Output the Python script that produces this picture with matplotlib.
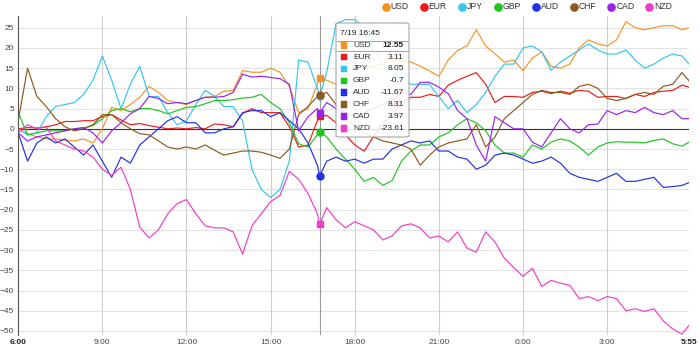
import matplotlib
matplotlib.use("Agg")
import matplotlib.pyplot as plt
from matplotlib.patches import FancyBboxPatch, Rectangle
from matplotlib.lines import Line2D

plt.rcParams['font.family'] = ['Liberation Sans', 'DejaVu Sans']

# minutes after 6:00 (20 min steps, plus the hovered 16:45 point and the last 5:55 point)
minutes = list(range(0, 641, 20)) + [645] + list(range(660, 1421, 20)) + [1435]

usd = [0, -1.2, -2, -2.5, -2.5, -2.8, -3, -2.5, -3.5, 0,
       5.3, 4.5, 6, 7.8, 10.5, 9, 7, 6.5, 6, 7,
       7.8, 8, 9.3, 9.5, 14.4, 14, 14, 15, 14, 10.5,
       4, 5, 11,
       12.55,
       12, 11, 13, 14, 15, 15.5, 16, 17, 17, 16.5,
       15.5, 14.3, 13, 17, 19.4, 20.5, 24.5, 20.5, 18.5, 16.5,
       17, 14.4, 17.5, 19, 15.5, 15, 16, 20, 22, 21,
       20.5, 22, 26.5, 25, 24.5, 25, 25.5, 25.5, 24.5,
       25]
eur = [0, 0.3, 0.2, 0.5, 1, 1.8, 1.8, 2, 2, 3,
       3.5, 2.2, 1, 1.3, 0.8, 0.4, 0, 0.2, 0, 0.3,
       0, 1.2, 1, 0.5, 3.8, 5, 4, 4, 4, 0.5,
       -4.5, -4, 2,
       3.11,
       3.3, 1.5, -1.5, -4, -5.5, -2, 1.5, 3.5, 6.5, 7.8,
       7.8, 8.5, 8, 10.8, 12, 13, 13.9, 11, 6.5, 8,
       8, 7.8, 9, 9.3, 8.7, 9.3, 8.8, 9.5, 9.3, 7.8,
       8, 8, 7.5, 8.5, 8, 9, 9.3, 9.5, 10.8,
       10.3]
jpy = [0, -1.5, -1, 3, 5.5, 6, 6.5, 8.5, 12, 18,
       12, 5, 11, 15.5, 8, 8, 4, 1, 2, 6,
       9.5, 8, 5.5, 5.5, 2, -10, -15, -17, -15, -8,
       17, 16.5, 10,
       8.05,
       14, 26, 27, 27, 25, 20, 16, 13.5, 12.5, 11,
       11, 11, 8, 5, 7, 4, 6, 9, 13, 16,
       16, 20, 20.5, 19, 14.5, 16.5, 18, 19.5, 21, 19.5,
       18.5, 18.5, 19.5, 17, 15, 16, 17.5, 18.5, 18,
       16]
gbp = [4, -1.5, -1, -0.5, -0.5, -0.5, 0, 0.2, 0.8, 2.5,
       4.5, 5, 4.2, 5, 5, 4.5, 3.7, 4.5, 5.3, 5.5,
       6.2, 7, 7, 7.2, 7.6, 7.8, 8.5, 6.5, 5, 1.5,
       -3.7, -4.5, -1.5,
       -0.7,
       -2, -5, -7.5, -10, -13, -12, -14, -12.8, -8, -5.5,
       -4, -4, -2, -1, 1, 2.5, 1.5, -0.5, -4, -6,
       -6, -7, -4, -5, -3.3, -2.5, -3, -4.5, -6.5, -4.5,
       -3.5, -3.2, -3.3, -3.3, -3.5, -2.9, -2.5, -3.7, -4.3,
       -3.3]
aud = [-1, -8, -3.5, -2, -3.5, -2.5, -4.5, -6.5, -4, -8,
       -12, -7, -8.5, -4, -2, 0, 2, 3, 1.5, 1.5,
       -1, -1, 0, 0.5, 4, 4.5, 4.5, 3, 4, 2,
       0, -3.5, -9,
       -11.67,
       -8, -7, -8, -7.5, -8.5, -7.5, -7.5, -5, -4, -3,
       -3.5, -3, -5.5, -5.5, -7, -7.5, -10, -9, -6.5, -6,
       -6.5, -7.5, -8.5, -8, -7, -8.5, -11, -12, -12.5, -13,
       -12, -11, -13, -13, -12.5, -12, -14.5, -14.3, -14,
       -13.3]
chf = [2, 15, 8, 5.5, 2.5, 0.5, -0.5, 0, 1, 3.5,
       3.5, 1.5, 0, -1.2, -1.5, -3, -4.5, -5, -4.5, -5,
       -4, -5.3, -6.5, -6, -5.5, -5.5, -5.8, -6.5, -7.3, -5,
       3.5, 5.5, 8,
       8.31,
       9, 6, 3, 0.5, -1, -2, -3, -3.5, -4, -5,
       -9, -6.5, -4.5, -3.5, -3, -2.5, 1, -4.5, -2, 2.5,
       4.5, 6.5, 8.5, 9.5, 9, 9, 8.5, 10.5, 11, 10,
       7.5, 7, 7.5, 8.5, 9, 8.5, 10.5, 11, 13.9,
       11.9]
cad = [-1, -3, -2, -1.5, -1, -0.5, 0, 0.3, -1, -3.5,
       -0.5, 1.5, 3.7, 5, 8, 7.5, 6.2, 6.5, 6.2, 7,
       7.8, 7.8, 8, 9, 13.5, 12.8, 13, 12.7, 12.4, 11,
       -0.5, 3, 5,
       3.97,
       6.5, 5, 4, 3, 4, 5, 6, 7, 9, 8.5,
       11.5, 11.5, 10.3, 8.7, 4.5, 2.5, -4, -8, 3, 1.5,
       0, 0, -3.3, -4.5, -1, 2.5, 0, -1, 1, 1.2,
       4.5, 3.5, 4.5, 4, 5.3, 4, 3.5, 4.5, 2.5,
       2.5]
nzd = [-1, 1, 0, 0.5, -3, -4, -5, -5.5, -7, -10,
       -11.5, -9.5, -15, -24.3, -27, -25, -21, -18.5, -17.5, -21,
       -24, -24.5, -24.5, -25.5, -31, -24, -21, -18, -16.5, -10.5,
       -12.5, -16, -21,
       -23.61,
       -19.5, -22.5, -24.5, -23, -24, -25, -27.5, -26.5, -24, -23.5,
       -24.5, -27, -26.5, -28, -25.5, -29.5, -30.5, -25.5, -28, -32,
       -34.3, -36.5, -34.5, -39, -37.5, -38.2, -38.7, -42, -41.5, -42.5,
       -41.5, -42, -45, -44.5, -45.2, -44.5, -47.5, -49.5, -50.8,
       -48.6]

names = ["USD", "EUR", "JPY", "GBP", "AUD", "CHF", "CAD", "NZD"]
series = [usd, eur, jpy, gbp, aud, chf, cad, nzd]
colors = ["#f39422", "#ec1c1c", "#33c6ef", "#1fc41f", "#2231e6", "#8c5a1d", "#9a22ee", "#f03cc8"]
markers = ["s", "s", "o", "o", "o", "o", "s", "s"]

tick_hours = [0, 3, 6, 9, 12, 15, 18, 21, 1435 / 60]
tick_labels = ["6:00", "9:00", "12:00", "15:00", "18:00", "21:00", "0:00", "3:00", "5:55"]
hover_label = "7/19 16:45"
hover_minute = 645

W, H = 700, 358


def px(x, y):
    return x / W, 1 - y / H


fig = plt.figure(figsize=(W / 100, H / 100), dpi=100)
ax = fig.add_axes([18.2 / W, 1 - 335 / H, (689 - 18.2) / W, (335 - 16) / H])
hours = [m / 60 for m in minutes]

# grid
for v in range(-50, 26, 5):
    if v != 0:
        ax.axhline(v, color="#e3e3e3", lw=0.8, zorder=0)
for h in tick_hours[1:-1]:
    ax.axvline(h, color="#cfcfcf", lw=0.8, zorder=0)
ax.axhline(0, color="#333333", lw=0.8, zorder=1)

for vals, c in zip(series, colors):
    ax.plot(hours, vals, color=c, lw=0.85, zorder=2, solid_joinstyle="round")

# hover cross line and points
hx = hover_minute / 60
hi = minutes.index(hover_minute)
ax.axvline(hx, color="#9a9a9a", lw=0.8, zorder=3)
for vals, c, m in zip(series, colors, markers):
    ax.plot([hx], [vals[hi]], marker=m, ms=5, color=c, mec=c, zorder=4)

ax.set_xlim(0, 1435 / 60)
ax.set_ylim(-51, 27.9)
ax.set_yticks(range(-50, 26, 5))
ax.set_xticks(tick_hours)
ax.set_xticklabels(tick_labels)
ax.tick_params(length=0, labelsize=6, colors="#444444", pad=3)
for lab in (ax.get_xticklabels()[0], ax.get_xticklabels()[-1]):
    lab.set_fontweight("bold")
    lab.set_color("#222222")
for s in ["top", "right", "bottom"]:
    ax.spines[s].set_visible(False)
ax.spines["left"].set_color("#555555")
ax.spines["left"].set_linewidth(0.8)

# legend at the top right
renderer = fig.canvas.get_renderer()
x = 382.2
for name, c in zip(names, colors):
    fig.add_artist(Line2D([px(x + 3.5, 0)[0]], [px(0, 6.5)[1]], marker="o", ms=5.2,
                          color=c, mec=c, transform=fig.transFigure))
    t = fig.text(*px(x + 8.5, 6.5), name, fontsize=6.2, color="#333333", va="center", ha="left")
    wdt = t.get_window_extent(renderer).width
    x = x + 8.5 + wdt + 11.4

# tooltip
box = FancyBboxPatch(px(336, 137), 73 / W, 114 / H, boxstyle="round,pad=0,rounding_size=0.004",
                     transform=fig.transFigure, facecolor="white", edgecolor="#999999",
                     lw=0.8, alpha=0.88, zorder=10)
fig.add_artist(box)
fig.text(*px(340, 33.5), hover_label, fontsize=6, color="#222222", va="center", ha="left", zorder=11)
for yy in (40.5, 50.8):
    fig.add_artist(Line2D([px(337, 0)[0], px(408, 0)[0]], [px(0, yy)[1]] * 2, color="#f39422",
                          lw=0.7, transform=fig.transFigure, zorder=11))
for k, (name, vals, c) in enumerate(zip(names, series, colors)):
    yy = 45.3 + k * 11.85
    fig.add_artist(Rectangle(px(340.5, yy + 3.3), 6.5 / W, 6.5 / H, transform=fig.transFigure,
                             facecolor=c, edgecolor=c, lw=0.3, zorder=11))
    fig.text(*px(353, yy), name, fontsize=6, color="#333333", va="center", ha="left", zorder=11)
    val = vals[hi]
    txt = ("%.2f" % val).rstrip("0").rstrip(".")
    fig.text(*px(404, yy), txt, fontsize=6, color="#222222", va="center", ha="right", zorder=11,
             fontweight="bold" if k == 0 else "normal")

fig.savefig("out.png", dpi=100)
